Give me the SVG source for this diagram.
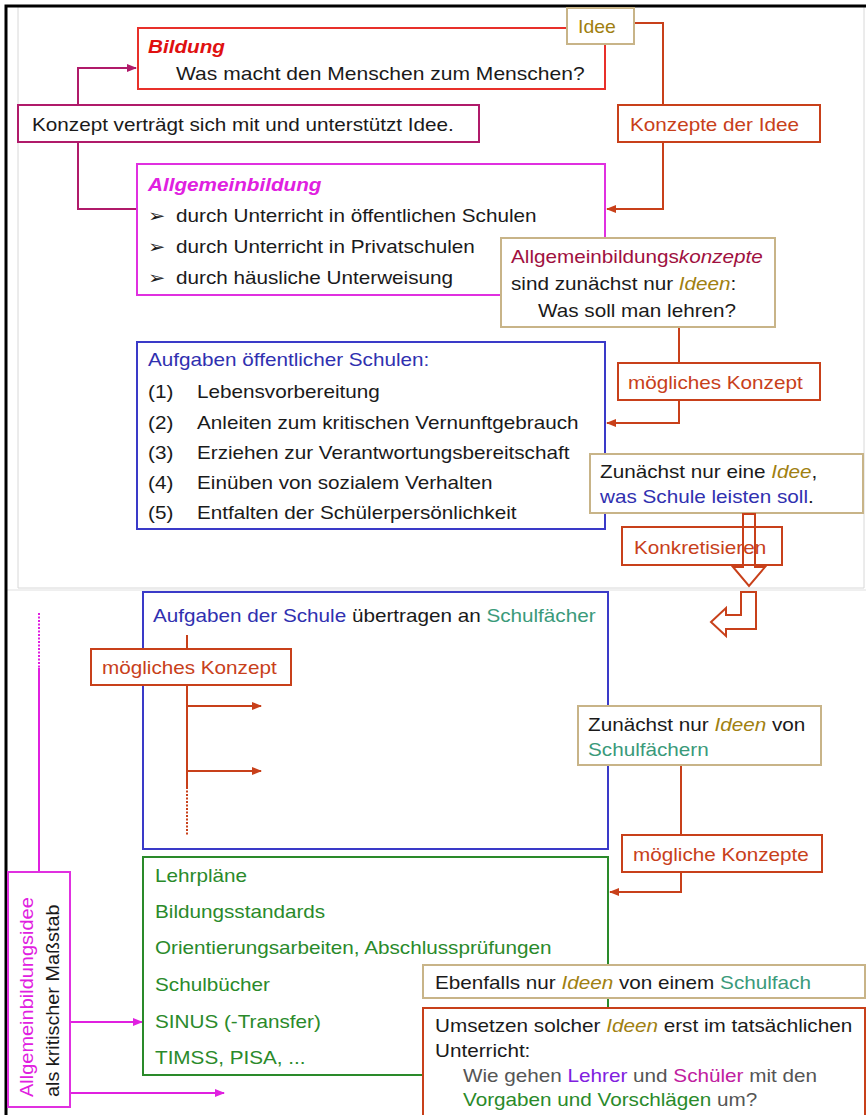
<svg xmlns="http://www.w3.org/2000/svg" width="866" height="1115" viewBox="0 0 866 1115">
  <defs>
    <style>
      text { font-family: "Liberation Sans", "DejaVu Sans", Arial, sans-serif; font-size: 18px; fill: #1a1a1a; }
      .box { fill: #ffffff; stroke-width: 2; }
      .red { stroke: #e8302a; }
      .maroon { stroke: #b01a6a; }
      .mag { stroke: #e030e0; }
      .ora { stroke: #c8401a; }
      .tan { stroke: #c8b488; }
      .blue { stroke: #3a3ac8; }
      .green { stroke: #2a8a2a; }
      .t-red { fill: #e01010; font-weight: bold; font-style: italic; }
      .t-mag { fill: #e020e0; }
      .t-ora { fill: #c8401a; }
      .t-olive { fill: #a08010; }
      .t-blue { fill: #3030b0; }
      .t-teal { fill: #3a9a7a; }
      .t-green { fill: #2a8a2a; }
      .t-maroon { fill: #a01040; }
      .t-gray { fill: #555555; }
      .t-purple { fill: #8020e0; }
      .t-pink { fill: #c020a0; }
      .it { font-style: italic; }
      .ln-maroon { fill: none; stroke: #b01a6a; stroke-width: 2; }
      .ln-ora { fill: none; stroke: #c8401a; stroke-width: 2; }
      .ln-mag { fill: none; stroke: #e020e0; stroke-width: 2; }
    </style>
    <marker id="ah-maroon" viewBox="0 0 10 10" refX="9" refY="5" markerWidth="5" markerHeight="5" orient="auto">
      <path d="M0,1 L10,5 L0,9 z" fill="#b01a6a"/>
    </marker>
    <marker id="ah-ora" viewBox="0 0 10 10" refX="9" refY="5" markerWidth="5" markerHeight="5" orient="auto">
      <path d="M0,1 L10,5 L0,9 z" fill="#c8401a"/>
    </marker>
    <marker id="ah-mag" viewBox="0 0 10 10" refX="9" refY="5" markerWidth="5" markerHeight="5" orient="auto">
      <path d="M0,1 L10,5 L0,9 z" fill="#e020e0"/>
    </marker>
  </defs>

  <rect x="0" y="0" width="866" height="1115" fill="#ffffff"/>

  <!-- frame of the upper sheet and the separator -->
  <g id="frame">
    <path d="M18,7 V588 H864 V7" fill="none" stroke="#d8d8d8" stroke-width="1"/>
    <line x1="5" y1="590" x2="866" y2="590" stroke="#e0e0e0" stroke-width="1"/>
    <path d="M6,1115 V6 H866" fill="none" stroke="#000000" stroke-width="3"/>
  </g>

  <!-- connectors -->
  <g id="connectors">
    <path class="ln-maroon" d="M78,105 V68 H136" marker-end="url(#ah-maroon)"/>
    <path class="ln-maroon" d="M78,142 V209 H138"/>
    <path class="ln-ora" d="M634,23 H663 V105"/>
    <path class="ln-ora" d="M663,142 V209 H607" marker-end="url(#ah-ora)"/>
    <path class="ln-ora" d="M679,327 V363"/>
    <path class="ln-ora" d="M679,400 V423 H607" marker-end="url(#ah-ora)"/>
    <path class="ln-ora" d="M681,765 V835"/>
    <path class="ln-ora" d="M681,872 V892 H610" marker-end="url(#ah-ora)"/>
    <!-- branch inside the subject box -->
    <path class="ln-ora" d="M187,635 V787"/>
    <path class="ln-ora" d="M187,787 V835" stroke-dasharray="2,1.5"/>
    <path class="ln-ora" d="M187,706 H261" marker-end="url(#ah-ora)"/>
    <path class="ln-ora" d="M187,771 H261" marker-end="url(#ah-ora)"/>
    <!-- yardstick lines -->
    <path class="ln-mag" d="M39,613 V668" stroke-dasharray="2,1.5"/>
    <path class="ln-mag" d="M39,668 V872"/>
    <path class="ln-mag" d="M70,1022 H142" marker-end="url(#ah-mag)"/>
    <path class="ln-mag" d="M70,1093 H224" marker-end="url(#ah-mag)"/>
  </g>

  <!-- upper sheet -->
  <g id="bildung">
    <rect class="box red" x="138" y="28" width="467" height="61"/>
    <text transform="translate(148,53) scale(1.15,1)" class="t-red">Bildung</text>
    <text transform="translate(176,80) scale(1.17,1)">Was macht den Menschen zum Menschen?</text>
  </g>

  <g id="idee">
    <rect class="box tan" x="567" y="8" width="67" height="36"/>
    <text transform="translate(578,33) scale(1.08,1)" class="t-olive">Idee</text>
  </g>

  <g id="konzept-vertraeglich">
    <rect class="box maroon" x="18" y="105" width="461" height="37"/>
    <text transform="translate(32,131) scale(1.15,1)">Konzept verträgt sich mit und unterstützt Idee.</text>
  </g>

  <g id="konzepte-der-idee">
    <rect class="box ora" x="618" y="105" width="202" height="37"/>
    <text transform="translate(630,131) scale(1.15,1)" class="t-ora">Konzepte der Idee</text>
  </g>

  <g id="allgemeinbildung">
    <rect class="box mag" x="137" y="164" width="468" height="131"/>
    <text transform="translate(148,191) scale(1.15,1)" class="t-mag" font-weight="bold" font-style="italic">Allgemeinbildung</text>
    <text transform="translate(148,222) scale(1.15,1)">➢</text>
    <text transform="translate(176,222) scale(1.15,1)">durch Unterricht in öffentlichen Schulen</text>
    <text transform="translate(148,253) scale(1.15,1)">➢</text>
    <text transform="translate(176,253) scale(1.15,1)">durch Unterricht in Privatschulen</text>
    <text transform="translate(148,284) scale(1.15,1)">➢</text>
    <text transform="translate(176,284) scale(1.15,1)">durch häusliche Unterweisung</text>
  </g>

  <g id="allgemeinbildungskonzepte">
    <rect class="box tan" x="501" y="238" width="274" height="89"/>
    <text transform="translate(511,263) scale(1.15,1)"><tspan class="t-maroon">Allgemeinbildungs</tspan><tspan class="t-maroon it">konzepte</tspan></text>
    <text transform="translate(511,290) scale(1.15,1)">sind zunächst nur <tspan class="t-olive it">Ideen</tspan>:</text>
    <text transform="translate(538,317) scale(1.15,1)">Was soll man lehren?</text>
  </g>

  <g id="moegliches-konzept-1">
    <rect class="box ora" x="618" y="363" width="202" height="37"/>
    <text transform="translate(628,389) scale(1.15,1)" class="t-ora">mögliches Konzept</text>
  </g>

  <g id="aufgaben-oeffentlicher-schulen">
    <rect class="box blue" x="137" y="342" width="468" height="187"/>
    <text transform="translate(148,366) scale(1.15,1)" class="t-blue">Aufgaben öffentlicher Schulen:</text>
    <text transform="translate(148,398) scale(1.15,1)">(1)</text><text transform="translate(197,398) scale(1.15,1)">Lebensvorbereitung</text>
    <text transform="translate(148,429) scale(1.15,1)">(2)</text><text transform="translate(197,429) scale(1.15,1)">Anleiten zum kritischen Vernunftgebrauch</text>
    <text transform="translate(148,459) scale(1.15,1)">(3)</text><text transform="translate(197,459) scale(1.15,1)">Erziehen zur Verantwortungsbereitschaft</text>
    <text transform="translate(148,489) scale(1.15,1)">(4)</text><text transform="translate(197,489) scale(1.15,1)">Einüben von sozialem Verhalten</text>
    <text transform="translate(148,519) scale(1.15,1)">(5)</text><text transform="translate(197,519) scale(1.15,1)">Entfalten der Schülerpersönlichkeit</text>
  </g>

  <g id="idee-schule">
    <rect class="box tan" x="590" y="454" width="273" height="59"/>
    <text transform="translate(600,478) scale(1.15,1)">Zunächst nur eine <tspan class="t-olive it">Idee</tspan>,</text>
    <text transform="translate(600,503) scale(1.15,1)"><tspan class="t-blue">was Schule leisten soll</tspan>.</text>
  </g>

  <g id="konkretisieren">
    <rect class="box ora" x="622" y="527" width="160" height="38"/>
    <text transform="translate(634,554) scale(1.15,1)" class="t-ora">Konkretisieren</text>
    <path d="M743,514 V567 H733 L749,586 L765,567 H755 V514 Z" fill="none" stroke="#c8401a" stroke-width="2"/>
  </g>

  <!-- lower sheet -->
  <g id="wende-pfeil">
    <path d="M741,592 H756 V629 H726 V636 L711,622 L726,608 V615 H741 Z" fill="#ffffff" stroke="#c8401a" stroke-width="2"/>
  </g>

  <g id="aufgaben-der-schule">
    <rect x="143" y="592" width="465" height="257" fill="none" stroke="#3a3ac8" stroke-width="2"/>
    <text transform="translate(153,622) scale(1.15,1)"><tspan class="t-blue">Aufgaben der Schule</tspan> übertragen an <tspan class="t-teal">Schulfächer</tspan></text>
  </g>

  <g id="moegliches-konzept-2">
    <rect class="box ora" x="91" y="649" width="200" height="36"/>
    <text transform="translate(102,674) scale(1.15,1)" class="t-ora">mögliches Konzept</text>
  </g>

  <g id="ideen-schulfaecher">
    <rect class="box tan" x="578" y="706" width="243" height="59"/>
    <text transform="translate(588,731) scale(1.15,1)">Zunächst nur <tspan class="t-olive it">Ideen</tspan> von</text>
    <text transform="translate(588,756) scale(1.15,1)" class="t-teal">Schulfächern</text>
  </g>

  <g id="moegliche-konzepte">
    <rect class="box ora" x="622" y="835" width="200" height="37"/>
    <text transform="translate(633,861) scale(1.15,1)" class="t-ora">mögliche Konzepte</text>
  </g>

  <g id="vorgaben">
    <rect x="143" y="857" width="465" height="218" fill="none" stroke="#2a8a2a" stroke-width="2"/>
    <text transform="translate(155,882) scale(1.15,1)" class="t-green">Lehrpläne</text>
    <text transform="translate(155,918) scale(1.15,1)" class="t-green">Bildungsstandards</text>
    <text transform="translate(155,954) scale(1.15,1)" class="t-green">Orientierungsarbeiten, Abschlussprüfungen</text>
    <text transform="translate(155,991) scale(1.15,1)" class="t-green">Schulbücher</text>
    <text transform="translate(155,1028) scale(1.15,1)" class="t-green">SINUS (-Transfer)</text>
    <text transform="translate(155,1064) scale(1.15,1)" class="t-green">TIMSS, PISA, ...</text>
  </g>

  <g id="massstab">
    <rect class="box mag" x="8" y="872" width="62" height="235"/>
    <text transform="translate(33,1097) rotate(-90) scale(1.11,1)" class="t-mag">Allgemeinbildungsidee</text>
    <text transform="translate(59,1097) rotate(-90) scale(1.1,1)">als kritischer Maßstab</text>
  </g>

  <g id="ideen-schulfach">
    <rect class="box tan" x="423" y="965" width="442" height="33"/>
    <text transform="translate(435,989) scale(1.15,1)">Ebenfalls nur <tspan class="t-olive it">Ideen</tspan> von einem <tspan class="t-teal">Schulfach</tspan></text>
  </g>

  <g id="unterricht">
    <rect class="box ora" x="423" y="1008" width="442" height="120"/>
    <text transform="translate(435,1032) scale(1.15,1)">Umsetzen solcher <tspan class="t-olive it">Ideen</tspan> erst im tatsächlichen</text>
    <text transform="translate(435,1057) scale(1.15,1)">Unterricht:</text>
    <text transform="translate(463,1082) scale(1.15,1)" class="t-gray">Wie gehen <tspan class="t-purple">Lehrer</tspan> und <tspan class="t-pink">Schüler</tspan> mit den</text>
    <text transform="translate(463,1106) scale(1.15,1)" class="t-gray"><tspan class="t-green">Vorgaben und Vorschlägen</tspan> um?</text>
  </g>
</svg>
